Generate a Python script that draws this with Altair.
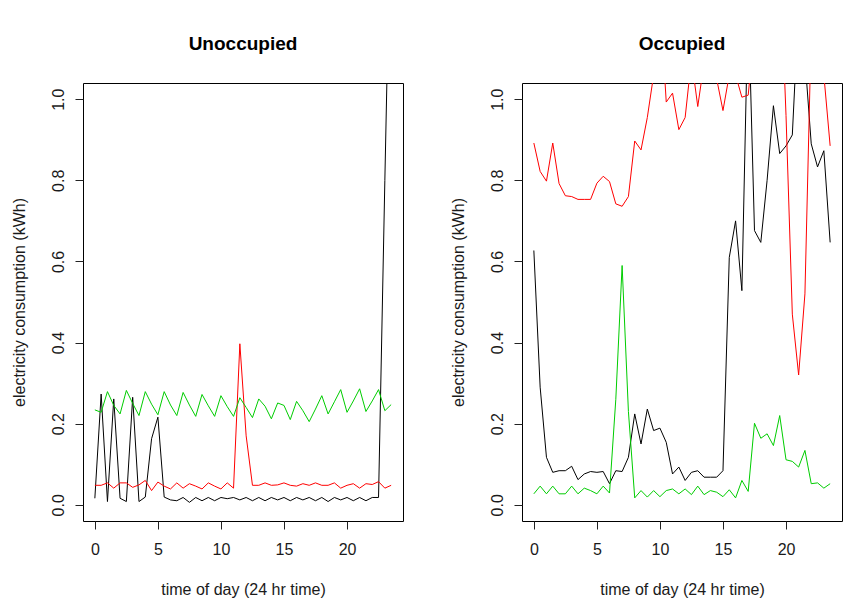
import altair as alt
import pandas as pd

# half-hourly time of day
hours = [0, 0.5, 1, 1.5, 2, 2.5, 3, 3.5, 4, 4.5, 5, 5.5,
         6, 6.5, 7, 7.5, 8, 8.5, 9, 9.5, 10, 10.5, 11, 11.5,
         12, 12.5, 13, 13.5, 14, 14.5, 15, 15.5, 16, 16.5, 17, 17.5,
         18, 18.5, 19, 19.5, 20, 20.5, 21, 21.5, 22, 22.5, 23, 23.5]

# Unoccupied panel
un_black = [0.016, 0.273, 0.008, 0.261, 0.016, 0.008, 0.265, 0.008, 0.019, 0.163, 0.216, 0.019,
            0.012, 0.010, 0.018, 0.006, 0.018, 0.010, 0.018, 0.010, 0.018, 0.015, 0.018, 0.012,
            0.018, 0.010, 0.018, 0.010, 0.018, 0.012, 0.018, 0.010, 0.018, 0.012, 0.018, 0.010,
            0.018, 0.008, 0.018, 0.012, 0.018, 0.010, 0.018, 0.010, 0.018, 0.018, 0.80, 1.55]
un_red = [0.048, 0.048, 0.054, 0.041, 0.054, 0.054, 0.043, 0.049, 0.060, 0.035, 0.056, 0.046,
          0.039, 0.054, 0.041, 0.052, 0.046, 0.039, 0.054, 0.046, 0.039, 0.054, 0.041, 0.397,
          0.170, 0.048, 0.048, 0.054, 0.048, 0.049, 0.054, 0.048, 0.046, 0.052, 0.048, 0.054,
          0.048, 0.048, 0.054, 0.041, 0.048, 0.052, 0.041, 0.052, 0.050, 0.057, 0.041, 0.048]
un_green = [0.234, 0.228, 0.279, 0.245, 0.224, 0.282, 0.250, 0.220, 0.279, 0.248, 0.222, 0.279,
            0.246, 0.220, 0.277, 0.246, 0.218, 0.272, 0.244, 0.218, 0.269, 0.242, 0.218, 0.264,
            0.240, 0.215, 0.261, 0.243, 0.212, 0.251, 0.245, 0.210, 0.255, 0.232, 0.205, 0.236,
            0.269, 0.224, 0.254, 0.284, 0.228, 0.256, 0.286, 0.230, 0.256, 0.284, 0.232, 0.247]

# Occupied panel
oc_black = [0.627, 0.290, 0.117, 0.080, 0.084, 0.084, 0.095, 0.062, 0.076, 0.082, 0.080, 0.082,
            0.052, 0.084, 0.082, 0.117, 0.224, 0.150, 0.236, 0.183, 0.189, 0.154, 0.076, 0.093,
            0.060, 0.080, 0.084, 0.068, 0.068, 0.068, 0.084, 0.610, 0.700, 0.528, 1.250, 0.676,
            0.647, 0.800, 0.984, 0.866, 0.885, 0.912, 1.230, 1.100, 0.890, 0.833, 0.873, 0.647]
oc_red = [0.892, 0.822, 0.798, 0.892, 0.792, 0.762, 0.760, 0.753, 0.753, 0.753, 0.793, 0.810,
          0.797, 0.742, 0.736, 0.760, 0.897, 0.875, 0.955, 1.060, 1.250, 0.993, 1.015, 0.925,
          0.955, 1.100, 0.982, 1.090, 1.150, 1.050, 0.972, 1.060, 1.060, 1.005, 1.010, 1.170,
          1.300, 1.250, 1.300, 1.360, 0.960, 0.470, 0.320, 0.520, 1.170, 1.300, 1.060, 0.885]
oc_green = [0.027, 0.046, 0.027, 0.046, 0.027, 0.027, 0.046, 0.027, 0.041, 0.035, 0.027, 0.046,
            0.029, 0.260, 0.590, 0.230, 0.017, 0.035, 0.019, 0.035, 0.020, 0.035, 0.039, 0.027,
            0.039, 0.025, 0.046, 0.025, 0.035, 0.031, 0.020, 0.037, 0.017, 0.060, 0.033, 0.201,
            0.164, 0.175, 0.146, 0.220, 0.111, 0.107, 0.093, 0.134, 0.052, 0.054, 0.041, 0.052]

x_ticks = [0, 5, 10, 15, 20]
y_ticks = [0.0, 0.2, 0.4, 0.6, 0.8, 1.0]
series_colors = [("black", "#000000"), ("red", "#FF0000"), ("green", "#00CD00")]

FONT = "Liberation Sans"
x_scale = alt.Scale(domain=[-0.94, 24.44], nice=False, zero=False)
y_scale = alt.Scale(domain=[-0.04, 1.04], nice=False, zero=False)


def panel(title, black, red, green):
    df = pd.DataFrame({"t": hours, "black": black, "red": red, "green": green})
    base = alt.Chart(df)
    x_enc = alt.X("t:Q", scale=x_scale,
                  axis=alt.Axis(values=x_ticks, title="time of day (24 hr time)",
                                labelPadding=12, titlePadding=24))
    y_axis = alt.Axis(values=y_ticks, format=".1f", labelAngle=270,
                      title="electricity consumption (kWh)", labelPadding=9, titlePadding=23)
    layers = []
    for col, color in series_colors:
        layers.append(
            base.mark_line(color=color, strokeWidth=1, clip=True).encode(
                x=x_enc,
                y=alt.Y(f"{col}:Q", scale=y_scale, axis=y_axis),
            )
        )
    return alt.layer(*layers).properties(
        width=320, height=438,
        title=alt.TitleParams(title, fontSize=19, fontWeight="bold", font=FONT,
                              anchor="middle", frame="group", offset=29, color="#000000"),
    )


chart = alt.hconcat(
    panel("Unoccupied", un_black, un_red, un_green),
    panel("Occupied", oc_black, oc_red, oc_green),
    spacing=45,
).properties(
    padding={"left": 2, "top": 26, "right": 5, "bottom": 5},
    background="white",
).configure_view(
    stroke="#000000", strokeWidth=1
).configure_axis(
    domain=False, grid=False, tickColor="#222222", tickSize=8, tickWidth=1,
    labelFont=FONT, labelFontSize=16, labelColor="#1a1a1a",
    titleFont=FONT, titleFontSize=16, titleFontWeight="normal", titleColor="#1a1a1a",
)

chart.save("out.html", embed_options={"renderer": "svg", "actions": False})
